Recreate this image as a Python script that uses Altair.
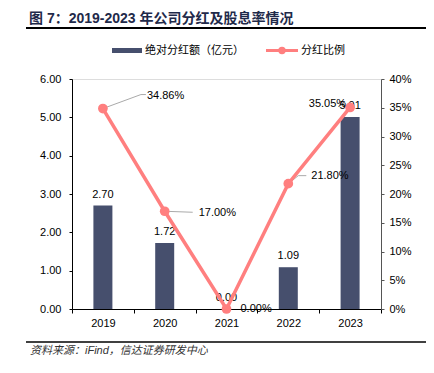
import altair as alt
import pandas as pd

# ---- data ----
years = ["2019", "2020", "2021", "2022", "2023"]
dividend = [2.70, 1.72, 0.00, 1.09, 5.01]          # 绝对分红额（亿元）
ratio = [0.3486, 0.1700, 0.0000, 0.2180, 0.3505]    # 分红比例
left_ticks = [0, 1, 2, 3, 4, 5, 6]
right_ticks = [0, 0.05, 0.10, 0.15, 0.20, 0.25, 0.30, 0.35, 0.40]

title_text = "图 7：2019-2023 年公司分红及股息率情况"
legend_bar = "绝对分红额（亿元）"
legend_line = "分红比例"
source_text = "资料来源：iFind，信达证券研发中心"

df = pd.DataFrame({"year": years, "dividend": dividend, "ratio": ratio})

FONT = "Liberation Sans, Arial, Noto Sans CJK SC, sans-serif"
BAR = "#464F6D"
LINE = "#FF7F7F"
LEADER = "#AAAAAA"

base = alt.Chart(df)

x_enc = alt.X(
    "year:N",
    sort=years,
    scale=alt.Scale(paddingInner=0, paddingOuter=0),
    axis=alt.Axis(
        title=None, labelAngle=0, tickBand="extent", domainColor="#000000",
        tickColor="#000000", tickSize=4, labelPadding=4, labelFontSize=11,
        labelColor="#000000", labelFont=FONT, domainWidth=1,
    ),
)

# ---- left axis: bars ----
y_left = alt.Y(
    "dividend:Q",
    scale=alt.Scale(domain=[0, 6], nice=False),
    axis=alt.Axis(
        title=None, values=left_ticks, format=".2f", grid=False,
        labelOverlap=False, tickCount=7,
        domainColor="#000000", tickColor="#000000", tickSize=3,
        labelPadding=8, labelFontSize=11, labelColor="#000000", labelFont=FONT,
    ),
)
bars = base.mark_bar(size=19, color=BAR).encode(x=x_enc, y=y_left)
bar_text = base.mark_text(
    baseline="alphabetic", dy=-8, fontSize=11, font=FONT, color="#000000"
).encode(x=x_enc, y=y_left, text=alt.Text("dividend:Q", format=".2f"))
left = alt.layer(bars, bar_text)

# ---- right axis: line ----
y_right = alt.Y(
    "ratio:Q",
    scale=alt.Scale(domain=[0, 0.4], nice=False),
    axis=alt.Axis(
        title=None, orient="right", values=right_ticks, format=".0%", grid=False,
        labelOverlap=False, tickCount=9,
        domainColor="#555555", tickColor="#555555", tickSize=3,
        labelPadding=5, labelFontSize=11, labelColor="#000000", labelFont=FONT,
    ),
)
line = base.mark_line(color=LINE, strokeWidth=3.5).encode(x=x_enc, y=y_right)
pts = base.mark_circle(size=95, color=LINE, opacity=1).encode(x=x_enc, y=y_right)

# leader lines (offsets in pixels from each point)
leader_specs = {
    "2019": [(0, 0, 38, -14), (38, -14, 43, -14)],
    "2020": [(0, 0, 28, 1)],
    "2022": [(0, 0, 10, -8), (10, -8, 18, -8)],
}
leaders = []
for yr, segs in leader_specs.items():
    for (a, b, c, d) in segs:
        leaders.append(
            base.mark_rule(
                color=LEADER, strokeWidth=1,
                xOffset=a, yOffset=b, x2Offset=c, y2Offset=d,
            ).encode(x=x_enc, x2="year:N", y=y_right, y2="ratio:Q")
            .transform_filter(alt.datum.year == yr)
        )

label_specs = {
    "2019": ("left", 44, -13),
    "2020": ("left", 34, 1.5),
    "2021": ("left", 14, 0),
    "2022": ("left", 23, -8),
    "2023": ("right", -4, -3),
}
ratio_labels = []
for yr, (al, dx, dy) in label_specs.items():
    ratio_labels.append(
        base.mark_text(
            align=al, baseline="middle", dx=dx, dy=dy, fontSize=11,
            font=FONT, color="#000000",
        ).encode(x=x_enc, y=y_right, text=alt.Text("ratio:Q", format=".2%"))
        .transform_filter(alt.datum.year == yr)
    )

right = alt.layer(*leaders, line, pts, *ratio_labels)

# ---- annotations (title, rules, legend, source) ----
one = alt.Data(values=[{"k": 1}])


def txt(s, xv, yv, **kw):
    return alt.Chart(one).mark_text(font=FONT, **kw).encode(
        x=alt.value(xv), y=alt.value(yv), text=alt.value(s)
    )


def hrule(x1, x2, yv, color, w):
    return alt.Chart(one).mark_rule(color=color, strokeWidth=w).encode(
        x=alt.value(x1), x2=alt.value(x2), y=alt.value(yv)
    )


title = txt(title_text, -43, -56, align="left", baseline="alphabetic",
            fontSize=14, fontWeight="bold", color="#1F2A4A")
top_rule = hrule(-46, 362, -51, "#000000", 2)
bottom_rule = hrule(-46, 362, 263, "#000000", 1.5)
source = txt(source_text, -42, 272, align="left", baseline="middle",
             fontSize=11, fontStyle="italic", color="#333333")
leg_bar = hrule(40, 70, -28.5, BAR, 5)
leg_bar_t = txt(legend_bar, 73, -28.5, align="left", baseline="middle",
                fontSize=11, color="#000000")
leg_line = hrule(194, 226, -28.5, LINE, 3)
leg_dot = alt.Chart(one).mark_circle(size=55, color=LINE, opacity=1).encode(
    x=alt.value(210), y=alt.value(-28.5)
)
leg_line_t = txt(legend_line, 229, -28.5, align="left", baseline="middle",
                 fontSize=11, color="#000000")
annot = alt.layer(title, top_rule, bottom_rule, source, leg_bar, leg_bar_t,
                  leg_line, leg_dot, leg_line_t)

chart = (
    alt.layer(left, right, annot)
    .resolve_scale(y="independent")
    .properties(
        width=309, height=230,
        autosize=alt.AutoSizeParams(type="none"),
        padding={"left": 64, "top": 71, "right": 45, "bottom": 50},
    )
    .configure_view(stroke=None)
    .configure(background="white")
)

chart.save("out.html", embed_options={"renderer": "svg", "actions": False})
